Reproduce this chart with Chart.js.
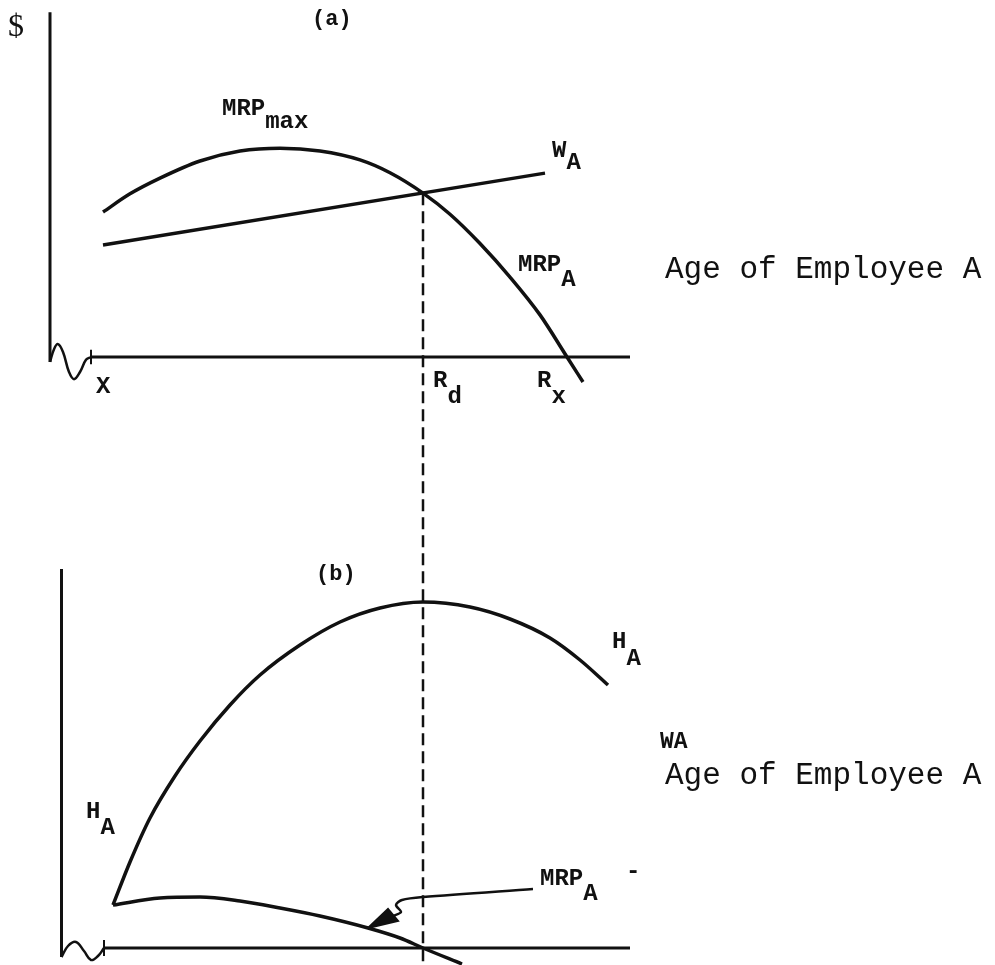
<!DOCTYPE html>
<html>
<head>
<meta charset="utf-8">
<title>MRP, wage and hours by age of employee A</title>
<script src="https://cdn.jsdelivr.net/npm/chart.js@4.4.1/dist/chart.umd.min.js"></script>
<style>
  html, body { margin: 0; padding: 0; background: #fff; }
  #chart { display: block; }
</style>
</head>
<body>
<canvas id="chart" width="995" height="965"></canvas>
<script>
// ---- panel (a): $ against age ----
var ageA = [2.4, 7.8, 13.8, 21.8, 29.8, 37.8, 45.8, 53.8, 59.8, 66.4, 71.8, 77.8, 83.8, 89.8, 95.2, 98.4];
var mrpA = [40.6, 45.7, 50.1, 54.9, 57.7, 58.5, 57.7, 55.2, 51.6, 45.9, 40.0, 31.8, 22.4, 11.8, 0, -7.0];
var wageAgeA = [2.4, 90.8];
var wageA = [31.4, 51.5];

// ---- panel (b): hours against age ----
var ageB = [4.4, 7.8, 11.8, 16.8, 21.8, 27.8, 33.8, 41.8, 49.8, 57.8, 66.4, 75.8, 83.8, 91.8, 97.8, 103.4];
var hoursB = [10.75, 21.5, 32.5, 43, 51.75, 60.75, 68.25, 75.75, 81.5, 85, 86.5, 85.25, 82.25, 77.5, 72, 65.75];
var mrpAgeB = [4.4, 13.8, 21.8, 29.8, 37.8, 45.8, 55.4, 61.8, 66.4, 74.2];
var mrpB = [10.75, 12.5, 12.75, 11.75, 10, 8, 5, 2.5, 0, -4];

// retirement age R_d (dashed line) and axis extents
var retireAge = 66.4;
var axisEnd = 107.8;
var yAxisA = { x: -8.2, top: 96.6, bottom: -1.4 };
var yAxisB = { x: -5.9, top: 94.75, bottom: -2.25 };

// axis breaks (squiggles) at the origin
var breakXA = [-8.2, -7.4, -6.6, -5.6, -4.4, -3.4, -2.2, -1.0, 0];
var breakYA = [-1.4, 2.2, 3.6, 1.4, -4.2, -6.2, -4.2, -0.8, 0];
var breakXB = [-5.9, -4.6, -3.0, -1.4, 0, 1.4, 2.6];
var breakYB = [-2.25, 0.5, 1.5, -0.75, -3.0, -2.0, 0];

// pointer from the MRP_A label in (b)
var arrowX = [88.4, 66.4, 62.2, 61, 62, 60.4];
var arrowY = [14.75, 12.75, 12, 10.75, 9, 8];
var headX = [55.4, 59.4, 61.4, 55.4];
var headY = [5, 9.75, 6.75, 5];

function pts(xs, ys) {
    return xs.map(function(x, i) { return {x: x, y: ys[i]}; });
}

var INK = '#111';
var TYPE = 'bold 24px "Liberation Mono", "DejaVu Sans Mono", monospace';
var PLAIN = '31px "Liberation Mono", "DejaVu Sans Mono", monospace';

function line(data, axis, extra) {
    var ds = {
        data: data,
        yAxisID: axis,
        showLine: true,
        borderColor: INK,
        borderWidth: 3,
        pointRadius: 0,
        fill: false,
        tension: 0
    };
    for (var k in extra) ds[k] = extra[k];
    return ds;
}

var notes = [
    {text: '$', x: -16.6, y: 89.9, axis: 'ya', font: '32px "Liberation Serif", "DejaVu Serif", serif'},
    {text: '(a)', x: 44.2, y: 93.0, axis: 'ya', font: 'bold 22px "Liberation Mono", monospace'},
    {text: 'MRP', sub: 'max', drop: 13, x: 26.2, y: 67.8, axis: 'ya', font: TYPE},
    {text: 'W', sub: 'A', drop: 12, x: 92.2, y: 56.0, axis: 'ya', font: TYPE},
    {text: 'MRP', sub: 'A', drop: 15, x: 85.4, y: 24.0, axis: 'ya', font: TYPE},
    {text: 'X', x: 1, y: -10.1, axis: 'ya', font: TYPE},
    {text: 'R', sub: 'd', drop: 16, x: 68.4, y: -8.4, axis: 'ya', font: TYPE},
    {text: 'R', sub: 'x', drop: 16, x: 89.2, y: -8.4, axis: 'ya', font: TYPE},
    {text: 'Age of Employee A', x: 114.8, y: 22.1, axis: 'ya', font: PLAIN},
    {text: '(b)', x: 45, y: 92, axis: 'yb', font: 'bold 22px "Liberation Mono", monospace'},
    {text: 'H', sub: 'A', drop: 17, x: 104.2, y: 75, axis: 'yb', font: TYPE},
    {text: 'WA', x: 113.8, y: 50, axis: 'yb', font: 'bold 23px "Liberation Mono", monospace'},
    {text: 'Age of Employee A', x: 114.8, y: 41, axis: 'yb', font: PLAIN},
    {text: 'H', sub: 'A', drop: 16, x: -1, y: 32.5, axis: 'yb', font: TYPE},
    {text: 'MRP', sub: 'A', drop: 15, x: 89.8, y: 15.75, axis: 'yb', font: TYPE},
    {text: '-', x: 107, y: 17.5, axis: 'yb', font: TYPE}
];

var labelPlugin = {
    id: 'diagramLabels',
    afterDatasetsDraw: function(chart) {
        var ctx = chart.ctx;
        notes.forEach(function(n) {
            var px = chart.scales.x.getPixelForValue(n.x);
            var py = chart.scales[n.axis].getPixelForValue(n.y);
            ctx.save();
            ctx.font = n.font;
            ctx.fillStyle = INK;
            ctx.textBaseline = 'alphabetic';
            ctx.fillText(n.text, px, py);
            if (n.sub) {
                var w = ctx.measureText(n.text).width;
                ctx.fillText(n.sub, px + w, py + n.drop);
            }
            ctx.restore();
        });
    }
};

var datasets = [
    // panel (a)
    line([{x: yAxisA.x, y: yAxisA.top}, {x: yAxisA.x, y: yAxisA.bottom}], 'ya'),
    line(pts(breakXA, breakYA), 'ya', {tension: 0.4, borderWidth: 2.5}),
    line([{x: 0, y: 0}, {x: axisEnd, y: 0}], 'ya'),
    line([{x: 0, y: 2}, {x: 0, y: -2}], 'ya', {borderWidth: 2}),
    line(pts(ageA, mrpA), 'ya', {cubicInterpolationMode: 'monotone', borderWidth: 3.5}),
    line(pts(wageAgeA, wageA), 'ya', {borderWidth: 3.5}),
    line([{x: retireAge, y: 45.9}, {x: retireAge, y: -170.31}], 'ya', {borderDash: [12, 6], borderWidth: 2.5}),
    // panel (b)
    line([{x: yAxisB.x, y: yAxisB.top}, {x: yAxisB.x, y: yAxisB.bottom}], 'yb'),
    line(pts(breakXB, breakYB), 'yb', {tension: 0.4, borderWidth: 2.5}),
    line([{x: 2.6, y: 0}, {x: axisEnd, y: 0}], 'yb'),
    line([{x: 2.6, y: 2}, {x: 2.6, y: -2}], 'yb', {borderWidth: 2}),
    line(pts(ageB, hoursB), 'yb', {cubicInterpolationMode: 'monotone', borderWidth: 3.5}),
    line(pts(mrpAgeB, mrpB), 'yb', {cubicInterpolationMode: 'monotone', borderWidth: 3.5}),
    line(pts(arrowX, arrowY), 'yb', {borderWidth: 2.5, tension: 0.3}),
    line(pts(headX, headY), 'yb', {borderWidth: 2, fill: 'shape', backgroundColor: INK})
];

var chart = new Chart(document.getElementById('chart').getContext('2d'), {
    type: 'scatter',
    data: { datasets: datasets },
    options: {
        responsive: false,
        animation: false,
        devicePixelRatio: 1,
        layout: { padding: 0 },
        plugins: {
            legend: { display: false },
            tooltip: { enabled: false }
        },
        scales: {
            x: { type: 'linear', min: -18.2, max: 180.8, display: false },
            ya: { type: 'linear', min: -170.31, max: 100, display: false },
            yb: { type: 'linear', min: -4.25, max: 237, display: false }
        }
    },
    plugins: [labelPlugin]
});
</script>
</body>
</html>
